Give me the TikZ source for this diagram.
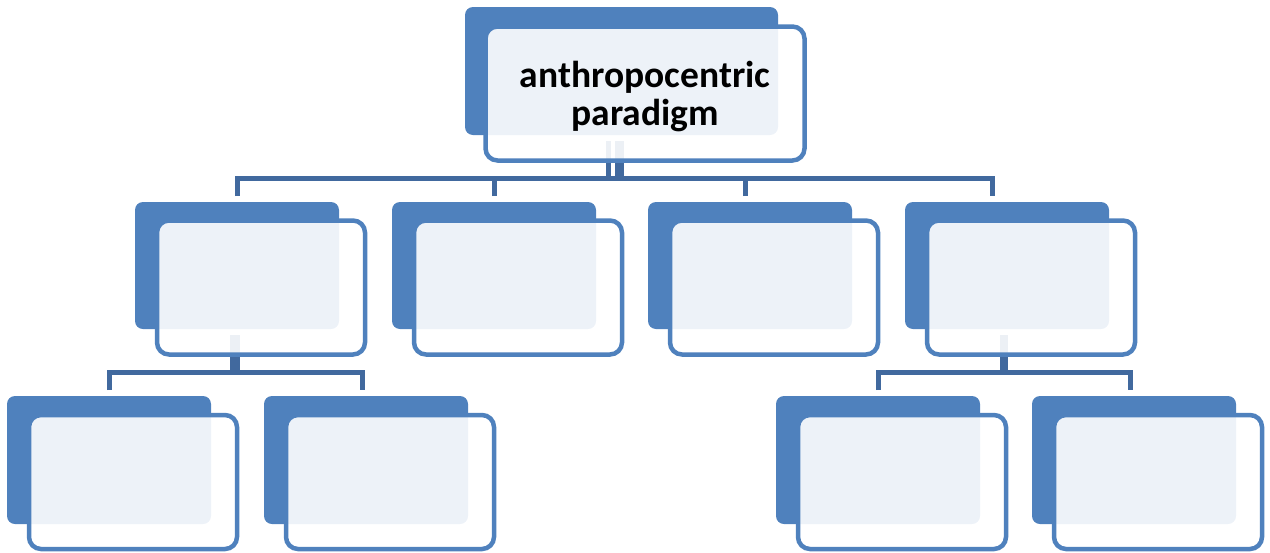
\documentclass[tikz,border=0pt]{standalone}
\usepackage{fontspec}
\setmainfont{Carlito}
\usetikzlibrary{calc}
\definecolor{acc}{HTML}{4F81BD}
\definecolor{connc}{HTML}{41699E}
\begin{document}
\begin{tikzpicture}[x=1pt,y=-1pt,
  backbox/.style={fill=acc, draw=none, rounded corners=8pt, minimum width=204pt, minimum height=127pt, inner sep=0pt, outer sep=0pt},
  frontbox/.style={draw=acc, line width=4.5pt, fill=white, fill opacity=0.9, text opacity=1, rounded corners=12pt, minimum width=208pt, minimum height=134pt, inner sep=0pt, outer sep=0pt},
  conn/.style={draw=connc, line width=5pt}]
\useasboundingbox (0,0) rectangle (1270,552);
% back boxes
\node[backbox, minimum width=313pt, minimum height=128pt] (tb) at (621.5,71) {};
\node[backbox] (m1) at (237,265.5) {};
\node[backbox] (m2) at (494,265.5) {};
\node[backbox] (m3) at (750,265.5) {};
\node[backbox] (m4) at (1007,265.5) {};
\node[backbox, minimum height=128pt] (b1) at (109,460) {};
\node[backbox, minimum height=128pt] (b2) at (366,460) {};
\node[backbox, minimum height=128pt] (b3) at (878,460) {};
\node[backbox, minimum height=128pt] (b4) at (1134,460) {};
% connectors
\draw[conn] ($(tb.south)+(-13.5,6)$) -- ++(0,37.5);
\draw[conn, line width=9pt] ($(tb.south)+(-2,6)$) -- ++(0,37.5);
\draw[conn] ($(m1.north)+(0.5,-6)$) -- ++(0,-17.5) -| ($(m4.north)+(-14.5,-6)$);
\draw[conn] ($(m2.north)+(0,-6)$) -- ++(0,-17.5);
\draw[conn] ($(m3.north)+(-4.5,-6)$) -- ++(0,-17.5);
\draw[conn, line width=10pt] ($(m1.south)+(-2,6)$) -- ++(0,37);
\draw[conn] ($(b1.north)+(0.5,-6)$) -- ++(0,-18) -| ($(b2.north)+(-4,-6)$);
\draw[conn, line width=8pt] ($(m4.south)+(-3,6)$) -- ++(0,37);
\draw[conn] ($(b3.north)+(0,-6)$) -- ++(0,-18) -| ($(b4.north)+(-4,-6)$);
% front boxes
\node[frontbox, minimum width=319pt, font=\bfseries\fontsize{37.5}{38}\selectfont] (tf) at ($(tb.center)+(23.5,22.5)$) {\raisebox{-5pt}[\height][\depth]{\begin{tabular}{@{}c@{}}anthropocentric\\paradigm\end{tabular}}};
\node[frontbox] (f1) at ($(m1.center)+(24,22)$) {};
\node[frontbox] (f2) at ($(m2.center)+(24,22)$) {};
\node[frontbox] (f3) at ($(m3.center)+(24,22)$) {};
\node[frontbox] (f4) at ($(m4.center)+(24,22)$) {};
\node[frontbox] (g1) at ($(b1.center)+(24,22)$) {};
\node[frontbox] (g2) at ($(b2.center)+(24,22)$) {};
\node[frontbox] (g3) at ($(b3.center)+(24,22)$) {};
\node[frontbox] (g4) at ($(b4.center)+(24,22)$) {};
\end{tikzpicture}
\end{document}
